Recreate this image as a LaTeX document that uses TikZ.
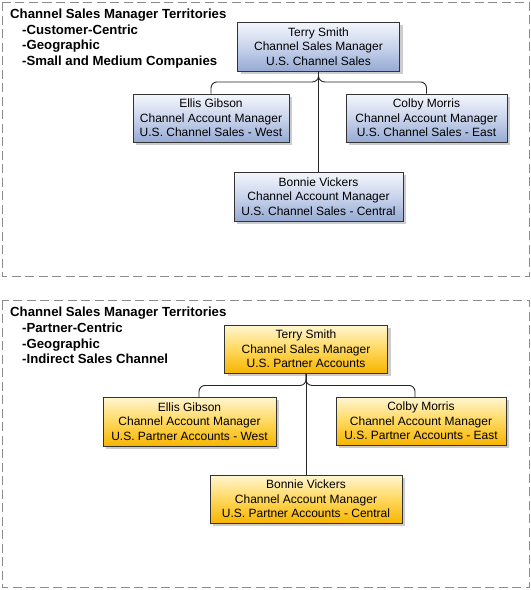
\documentclass[tikz,border=0pt]{standalone}
\usepackage{fontspec}
\setmainfont{Liberation Sans}
\usetikzlibrary{shadows}
\definecolor{frameg}{HTML}{8C8C8C}
\definecolor{boxline}{HTML}{333333}
\definecolor{btop}{HTML}{F3F6FC}
\definecolor{bmid}{HTML}{C9D4EC}
\definecolor{bbot}{HTML}{97AAD4}
\definecolor{ytop}{HTML}{FFF6D2}
\definecolor{ymid}{HTML}{FFD85E}
\definecolor{ybot}{HTML}{F7B500}
\tikzset{
  frame/.style={draw=frameg, line width=1pt, dash pattern=on 9pt off 4.5pt},
  ttl/.style={anchor=base west, inner sep=0pt, font=\fontsize{13.2}{15.7}\selectfont\bfseries},
  person/.style={draw=boxline, line width=0.9pt, align=center, inner sep=0pt,
    font=\fontsize{12}{14.5}\selectfont,
    drop shadow={shadow xshift=3pt, shadow yshift=-3pt, fill=black!40, opacity=0.5}},
  bluebox/.style={person, top color=btop, bottom color=bbot, middle color=bmid},
  yellowbox/.style={person, top color=ytop, bottom color=ybot, middle color=ymid},
  conn/.style={draw=black!85, line width=0.9pt, rounded corners=6pt}
}
\begin{document}
\begin{tikzpicture}[x=1pt,y=-1pt]
\useasboundingbox (0,0) rectangle (531,590);
% frames
\draw[frame] (2,2) rectangle (529,276);
\draw[frame] (2,300.5) rectangle (529,587);
% top titles
\node[ttl] (t1a) at (10,18.3) {Channel Sales Manager Territories};
\node[ttl] (t1b) at (22,34) {-Customer-Centric};
\node[ttl] (t1c) at (22,49.7) {-Geographic};
\node[ttl] (t1d) at (22,65.4) {-Small and Medium Companies};
% bottom titles
\node[ttl] (t2a) at (10,316.7) {Channel Sales Manager Territories};
\node[ttl] (t2b) at (22,332.4) {-Partner-Centric};
\node[ttl] (t2c) at (22,348.1) {-Geographic};
\node[ttl] (t2d) at (22,363.8) {-Indirect Sales Channel};
% top org chart
\node[bluebox, minimum width=162pt, minimum height=49pt] (T1) at (318.5,46.5)
  {Terry Smith\\Channel Sales Manager\\U.S. Channel Sales};
\node[bluebox, minimum width=156pt, minimum height=48pt] (E1) at (211,118)
  {Ellis Gibson\\Channel Account Manager\\U.S. Channel Sales - West};
\node[bluebox, minimum width=161pt, minimum height=48pt] (C1) at (426.5,118)
  {Colby Morris\\Channel Account Manager\\U.S. Channel Sales - East};
\node[bluebox, minimum width=169pt, minimum height=49pt] (B1) at (318.5,196.5)
  {Bonnie Vickers\\Channel Account Manager\\U.S. Channel Sales - Central};
\draw[conn] (T1.south) -- ++(0,10.5) -| (E1.north);
\draw[conn] (T1.south) -- ++(0,10.5) -| (C1.north);
\draw[conn] (T1.south) -- (B1.north);
% bottom org chart
\node[yellowbox, minimum width=163pt, minimum height=48pt] (T2) at (306,349)
  {Terry Smith\\Channel Sales Manager\\U.S. Partner Accounts};
\node[yellowbox, minimum width=173pt, minimum height=49pt] (E2) at (189.5,421.5)
  {Ellis Gibson\\Channel Account Manager\\U.S. Partner Accounts - West};
\node[yellowbox, minimum width=170pt, minimum height=48pt] (C2) at (421,421)
  {Colby Morris\\Channel Account Manager\\U.S. Partner Accounts - East};
\node[yellowbox, minimum width=192pt, minimum height=48pt] (B2) at (306,499)
  {Bonnie Vickers\\Channel Account Manager\\U.S. Partner Accounts - Central};
\coordinate (E2top) at (199,397);
\coordinate (C2top) at (415,397);
\draw[conn] (T2.south) -- ++(0,12) -| (E2top);
\draw[conn] (T2.south) -- ++(0,12) -| (C2top);
\draw[conn] (T2.south) -- (B2.north);
\end{tikzpicture}
\end{document}
